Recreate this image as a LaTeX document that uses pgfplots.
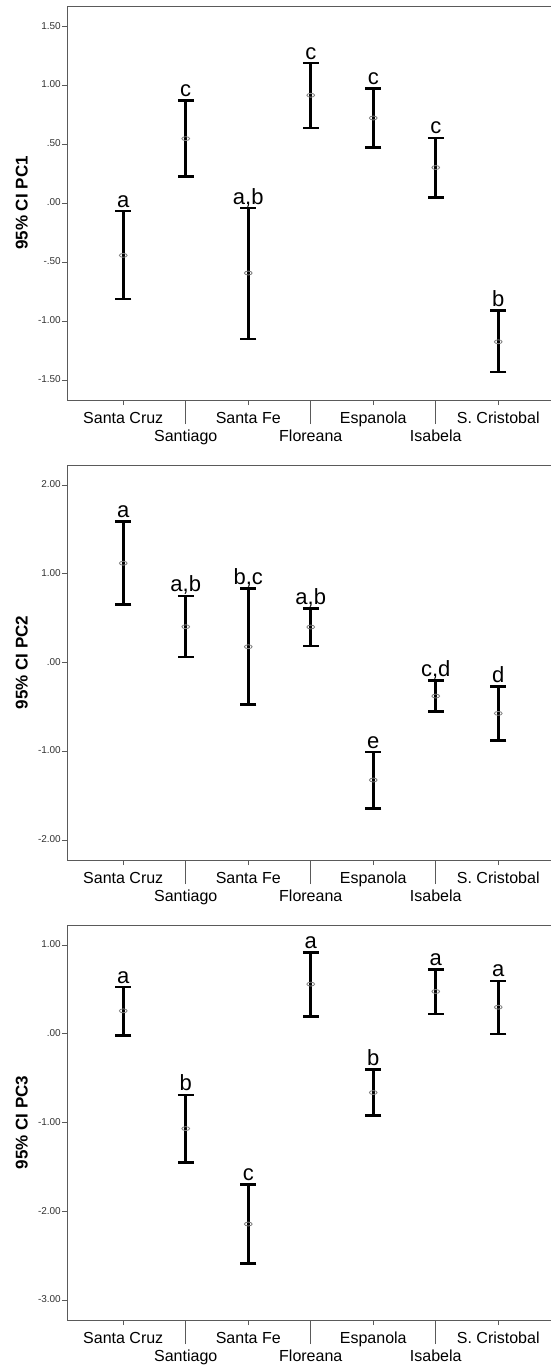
\documentclass[border=0pt]{standalone}
\usepackage{pgfplots}
\pgfplotsset{compat=1.18}
\usepackage{pgfplotstable}
\usepackage{fontspec}
\setmainfont{Liberation Sans}

\pgfplotstableread{
x m lo hi lab
0 -0.44 -0.81 -0.065 a
1 0.55 0.23 0.873 c
2 -0.59 -1.15 -0.04 a,b
3 0.918 0.64 1.19 c
4 0.725 0.477 0.975 c
5 0.305 0.05 0.556 c
6 -1.173 -1.43 -0.91 b
}\pcone

\pgfplotstableread{
x m lo hi lab
0 1.12 0.657 1.588 a
1 0.405 0.064 0.751 a,b
2 0.18 -0.47 0.838 b,c
3 0.402 0.19 0.608 a,b
4 -1.32 -1.64 -1.006 e
5 -0.375 -0.55 -0.2 c,d
6 -0.57 -0.874 -0.266 d
}\pctwo

\pgfplotstableread{
x m lo hi lab
0 0.259 -0.015 0.526 a
1 -1.066 -1.445 -0.687 b
2 -2.14 -2.587 -1.693 c
3 0.56 0.195 0.916 a
4 -0.66 -0.92 -0.398 b
5 0.477 0.222 0.724 a
6 0.30 0.0 0.597 a
}\pcthree

\definecolor{frame}{RGB}{90,90,90}

\pgfplotsset{
  pcaxis/.style={
    scale only axis, width=490pt,
    xmin=-0.9, xmax=6.94,
    clip=false,
    axis line style={frame, line width=0.8pt},
    tick align=outside,
    tick style={frame, line width=0.8pt},
    /pgf/number format/assume math mode=true,
    typeset ticklabels with strut,
    xtick={0,2,4,6},
    xticklabels={Santa Cruz, Santa Fe, Espanola, S. Cristobal},
    extra x ticks={1,3,5},
    extra x tick labels={Santiago, Floreana, Isabela},
    extra x tick style={major tick length=24pt, xticklabel style={yshift=1pt}},
    xtick pos=bottom, ytick pos=left,
    major tick length=5pt,
    xticklabel style={font=\fontsize{16}{18}\selectfont, text=black, inner sep=1pt, yshift=-4.5pt},
    yticklabel style={font=\fontsize{10}{12}\selectfont, text=black!80, inner sep=1pt},
    ylabel style={font=\bfseries\fontsize{17}{19}\selectfont, at={(axis description cs:-0.0924,0.5)}, anchor=center},
  },
  meanbars/.style={
    only marks, mark=o, mark size=2.6pt,
    mark options={gray, line width=0.8pt, xscale=1.5, yscale=0.75},
    error bars/.cd, y dir=both, y explicit,
    error bar style={black, line width=2.6pt},
    error mark options={black, line width=2.6pt, mark size=8pt, rotate=90},
  },
  letters/.style={
    only marks, mark=*, mark size=0pt, mark options={draw=none, fill=none},
    nodes near coords, point meta=explicit symbolic,
    nodes near coords style={anchor=base, inner sep=0pt, yshift=4pt, font=\fontsize{22}{24}\selectfont, text=black},
  },
}

\begin{document}
\begin{tikzpicture}
\useasboundingbox (0pt,0pt) rectangle (551pt,-1369pt);

\begin{axis}[pcaxis, at={(67pt,-400pt)}, anchor=south west, height=394pt,
  ymin=-1.667, ymax=1.675,
  ytick={-1.5,-1,-0.5,0,0.5,1,1.5},
  yticklabels={-1.50,-1.00,-.50,.00,.50,1.00,1.50},
  ylabel={95\% CI PC1}]
\addplot[meanbars] table[x=x, y=m, y error plus expr=\thisrow{hi}-\thisrow{m}, y error minus expr=\thisrow{m}-\thisrow{lo}] {\pcone};
\addplot[letters] table[x=x, y=hi, meta=lab] {\pcone};
\end{axis}

\begin{axis}[pcaxis, at={(67pt,-860pt)}, anchor=south west, height=395pt,
  ymin=-2.22, ymax=2.225,
  ytick={-2,-1,0,1,2},
  yticklabels={-2.00,-1.00,.00,1.00,2.00},
  ylabel={95\% CI PC2}]
\addplot[meanbars] table[x=x, y=m, y error plus expr=\thisrow{hi}-\thisrow{m}, y error minus expr=\thisrow{m}-\thisrow{lo}] {\pctwo};
\addplot[letters] table[x=x, y=hi, meta=lab] {\pctwo};
\end{axis}

\begin{axis}[pcaxis, at={(67pt,-1320pt)}, anchor=south west, height=395pt,
  ymin=-3.22, ymax=1.225,
  ytick={-3,-2,-1,0,1},
  yticklabels={-3.00,-2.00,-1.00,.00,1.00},
  ylabel={95\% CI PC3}]
\addplot[meanbars] table[x=x, y=m, y error plus expr=\thisrow{hi}-\thisrow{m}, y error minus expr=\thisrow{m}-\thisrow{lo}] {\pcthree};
\addplot[letters] table[x=x, y=hi, meta=lab] {\pcthree};
\end{axis}
\end{tikzpicture}
\end{document}
